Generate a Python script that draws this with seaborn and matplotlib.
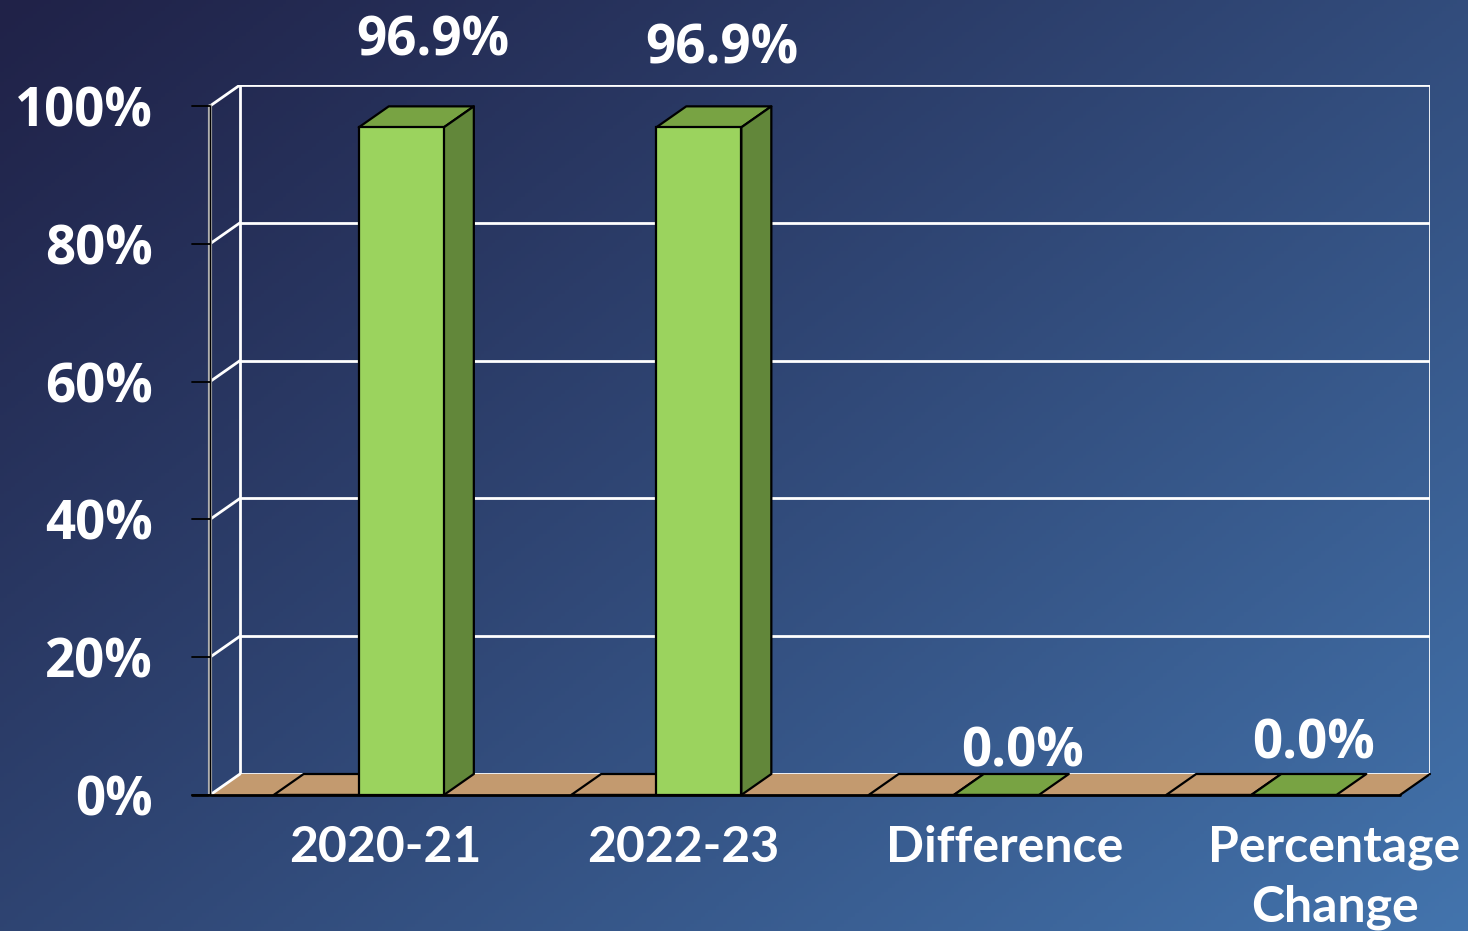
import numpy as np
import pandas as pd
import matplotlib
matplotlib.use("Agg")
from matplotlib import pyplot as plt
from matplotlib.patches import Polygon
import seaborn as sb

# data
categories = ["2020-21", "2022-23", "Difference", "Percentage\nChange"]
values = [96.9, 96.9, 0.0, 0.0]
value_labels = ["96.9%", "96.9%", "0.0%", "0.0%"]
floor_series = [0.0, 0.0, 0.0, 0.0]  # empty front series, only shows as outlines on the floor
yticks = [0, 20, 40, 60, 80, 100]
ytick_labels = ["0%", "20%", "40%", "60%", "80%", "100%"]

# layout (pixels of the 1468x931 picture)
W, H = 1468, 931
slot_px = 297.5          # width of one category
unit_px = 6.89           # pixels per percent
dx = 30 / slot_px        # depth offset of the 3d box
dy = 21 / unit_px
label_xoff = [0.09, 0.09, 0.17, 0.28]
value_xoff = [0.25, 0.22, 0.23, 0.21]
value_yoff = [12.5, 11.3, 6.2, 7.4]

front_c = "#9bd35e"
top_c = "#78a343"
side_c = "#62873a"
floor_c = "#c39a6f"

sb.set_theme(style="white")
plt.rcParams["font.family"] = ["Open Sans", "DejaVu Sans"]

fig = plt.figure(figsize=(W / 100, H / 100), dpi=100)

# background gradient
bg = fig.add_axes([0, 0, 1, 1], zorder=0)
xx, yy = np.meshgrid(np.linspace(0, 1, 400), np.linspace(0, 1, 260))
t = np.clip(0.55 * xx + 0.45 * yy, 0, 1) ** 1.1
c0 = np.array([0x20, 0x22, 0x48]) / 255
c1 = np.array([0x43, 0x74, 0xad]) / 255
img = c0 + (c1 - c0) * t[..., None]
bg.imshow(img, aspect="auto", extent=[0, 1, 0, 1], origin="upper")
bg.axis("off")

ax = fig.add_axes([210 / W, (H - 795) / H, 1220 / W, 710 / H], zorder=1)
ax.patch.set_alpha(0)

df = pd.DataFrame({
    "category": categories * 2,
    "value": floor_series + values,
    "series": ["floor"] * 4 + ["main"] * 4,
})
sb.barplot(data=df, x="category", y="value", hue="series", order=categories,
           hue_order=["floor", "main"], palette={"floor": floor_c, "main": front_c},
           width=0.572, dodge=True, saturation=1, edgecolor="black", linewidth=1.6,
           legend=False, ax=ax, zorder=4)

ax.set_xlim(-0.5, 3.5 + dx)
ax.set_ylim(0, 100 + dy)

# floor
ax.add_patch(Polygon([(-0.5, 0), (3.5, 0), (3.5 + dx, dy), (-0.5 + dx, dy)],
                     closed=True, facecolor=floor_c, edgecolor="none", zorder=1))

# walls / gridlines
for y in yticks:
    ax.plot([-0.5 + dx, 3.5 + dx], [y + dy, y + dy], color="white", lw=2, zorder=0.5)
    ax.plot([-0.5, -0.5 + dx], [y, y + dy], color="white", lw=2, zorder=2)
ax.plot([-0.5 + dx, -0.5 + dx], [dy, 100 + dy], color="white", lw=2, zorder=0.5)
ax.plot([3.5 + dx, 3.5 + dx], [dy, 100 + dy], color="white", lw=2, zorder=0.5)

# 3d faces on top of the seaborn bars
for p in list(ax.patches):
    if isinstance(p, Polygon):
        continue
    x0, w, h = p.get_x(), p.get_width(), p.get_height()
    x1 = x0 + w
    is_main = (x0 + w / 2) % 1 < 0.5
    tc = top_c if is_main else floor_c
    ax.add_patch(Polygon([(x0, h), (x1, h), (x1 + dx, h + dy), (x0 + dx, h + dy)],
                         closed=True, facecolor=tc, edgecolor="black", lw=1.6,
                         joinstyle="round", zorder=3))
    if h > 0:
        ax.add_patch(Polygon([(x1, 0), (x1 + dx, dy), (x1 + dx, h + dy), (x1, h)],
                             closed=True, facecolor=side_c, edgecolor="black", lw=1.6,
                             joinstyle="round", zorder=3))

# front axis line, ticks and floor edges
tick = 18 / slot_px
ax.plot([-0.5, -0.5], [0, 100], color="#b0b0b0", lw=3, zorder=2, clip_on=False)
ax.plot([-0.5, -0.5], [0, 100], color="black", lw=1, zorder=2, clip_on=False)
for y in yticks:
    ax.plot([-0.5 - tick, -0.5], [y, y], color="black", lw=1.3, zorder=2, clip_on=False)
ax.plot([-0.5 - tick, 3.5], [0, 0], color="black", lw=2, zorder=5, clip_on=False)
ax.plot([3.5, 3.5 + dx], [0, dy], color="black", lw=1.6, zorder=5, clip_on=False)

for s in ax.spines.values():
    s.set_visible(False)
ax.set_xlabel("")
ax.set_ylabel("")
ax.set_yticks(yticks, ytick_labels)
ax.set_xticks([])
ax.tick_params(axis="y", length=0, pad=41, labelsize=38, labelcolor="white")
for lab in ax.get_yticklabels():
    lab.set_fontweight("bold")

for i, cat in enumerate(categories):
    ax.text(i + label_xoff[i], -4.4, cat, ha="center", va="top", fontsize=36,
            fontweight="bold", color="white", linespacing=1.38, clip_on=False,
            family=["Lato", "DejaVu Sans"])

for i, v in enumerate(values):
    ax.text(i + value_xoff[i], v + value_yoff[i], value_labels[i], ha="center",
            va="center", fontsize=38, fontweight="bold", color="white", clip_on=False)

fig.savefig("out.png", dpi=100)
